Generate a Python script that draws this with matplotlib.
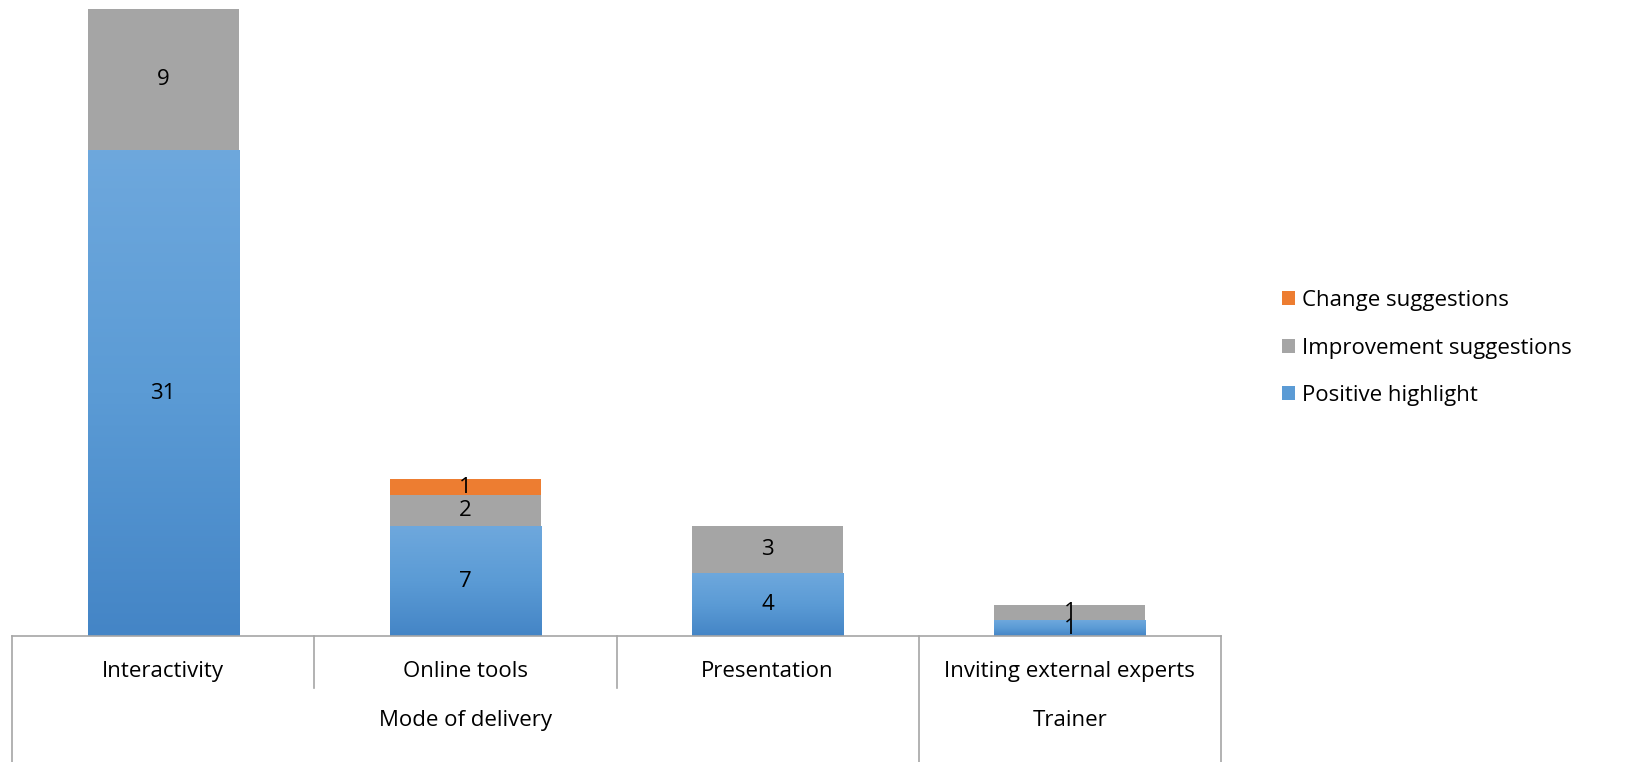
import matplotlib.pyplot as plt
import numpy as np
from matplotlib.colors import LinearSegmentedColormap

# data
categories = ["Interactivity", "Online tools", "Presentation", "Inviting external experts"]
groups = ["Mode of delivery", "Trainer"]
group_spans = [(0, 2), (3, 3)]  # first and last category index of each group
positive = [31, 7, 4, 1]
improvement = [9, 2, 3, 1]
change = [0, 1, 0, 0]

plt.rcParams['font.family'] = ['Open Sans', 'DejaVu Sans']
fs = 16

fig = plt.figure(figsize=(16.27, 7.62), dpi=100)
ax = fig.add_axes([12 / 1627, 126 / 762, 1209 / 1627, 627 / 762])

x = np.arange(len(categories))
w = 0.5
blue = "#5B9BD5"
gray = "#A5A5A5"
orange = "#ED7D31"

b1 = ax.bar(x, positive, w, color=blue, label="Positive highlight")
b2 = ax.bar(x, improvement, w, bottom=positive, color=gray, label="Improvement suggestions")
bottom2 = np.array(positive) + np.array(improvement)
b3 = ax.bar(x, change, w, bottom=bottom2, color=orange, label="Change suggestions")

# gradient fill on the blue bars
cmap = LinearSegmentedColormap.from_list("g", ["#4485C6", "#5B9BD5", "#6EA8DD"])
grad = np.linspace(0, 1, 256).reshape(-1, 1)
for rect in b1:
    x0, y0 = rect.get_x(), rect.get_y()
    im = ax.imshow(grad, cmap=cmap, origin="lower", aspect="auto",
                   extent=[x0, x0 + rect.get_width(), y0, y0 + rect.get_height()],
                   zorder=rect.get_zorder() + 0.1)
    im.set_clip_path(rect)

# data labels
for i in range(len(categories)):
    base = 0
    for vals in (positive, improvement, change):
        v = vals[i]
        if v:
            ax.text(x[i], base + v / 2, str(v), ha="center", va="center",
                    fontsize=fs, color="black", zorder=5)
        base += v

ax.set_xlim(-0.5, len(categories) - 0.5)
ax.set_ylim(0, 40)
for s in ax.spines.values():
    s.set_visible(False)
ax.set_xticks([])
ax.set_yticks([])

# category table below the axis
line_c = "#A6A6A6"
tr = ax.get_xaxis_transform()
ax.plot([-0.5, len(categories) - 0.5], [0, 0], color=line_c, lw=1.2, transform=tr, clip_on=False)
row1 = -0.083
bottom = -0.205
for i in range(len(categories) + 1):
    edge = i - 0.5
    is_group_edge = (i == 0) or any(edge == e + 0.5 for _, e in group_spans)
    ax.plot([edge, edge], [0, bottom if is_group_edge else row1], color=line_c, lw=1.2,
            transform=tr, clip_on=False)
for i, c in enumerate(categories):
    ax.text(i, -0.056, c, ha="center", va="center", fontsize=fs, transform=tr)
for g, (s, e) in zip(groups, group_spans):
    ax.text((s + e) / 2, -0.134, g, ha="center", va="center", fontsize=fs, transform=tr)

handles = [b3, b2, b1]
labels = [h.get_label() for h in handles]
fig.legend(handles, labels, loc="center left", bbox_to_anchor=(1262 / 1627, 1 - 348 / 762),
           frameon=False, fontsize=fs, handlelength=0.6, handleheight=0.6,
           handletextpad=0.3, labelspacing=1.2)

fig.savefig("out.png", dpi=100)
